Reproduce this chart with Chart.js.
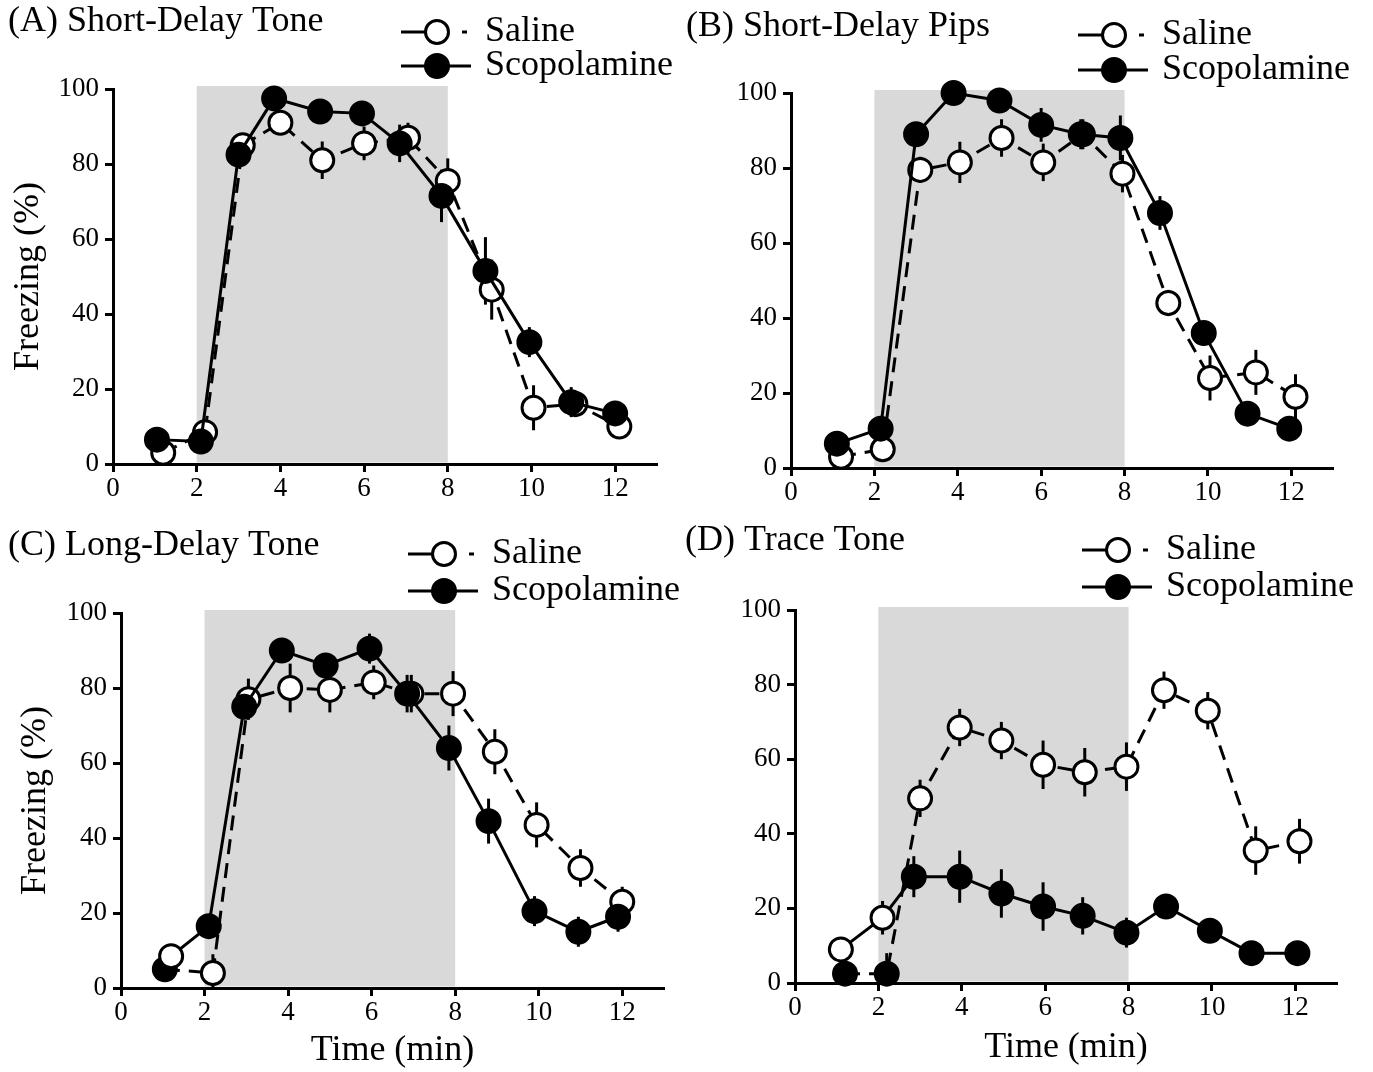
<!DOCTYPE html>
<html>
<head>
<meta charset="utf-8">
<script src="https://cdn.jsdelivr.net/npm/chart.js@4.4.1/dist/chart.umd.min.js"></script>
<style>
  html, body { margin: 0; padding: 0; background: #fff; }
  body { width: 1373px; height: 1072px; position: relative; overflow: hidden; }
  canvas { position: absolute; }
</style>
</head>
<body>
<canvas id="cA"></canvas>
<canvas id="cB"></canvas>
<canvas id="cC"></canvas>
<canvas id="cD"></canvas>
<script>
// Ejes y periodo del tono
const xTicks = [0, 2, 4, 6, 8, 10, 12];
const yTicks = [0, 20, 40, 60, 80, 100];
const toneWindow = [2, 8];

// (A) Short-Delay Tone
const aSalineTime = [1.2, 2.2, 3.1, 4.0, 5.0, 6.0, 7.05, 8.0, 9.05, 10.05, 11.05, 12.1];
const aSaline     = [3, 8.5, 85, 91, 81, 85.5, 87, 75.5, 46.5, 15, 16, 10];
const aSalineSem  = [1, 2, 3, 3, 5, 4.5, 4, 6, 8, 6, 3.5, 2];
const aScopTime   = [1.05, 2.1, 3.0, 3.85, 4.95, 5.95, 6.85, 7.85, 8.9, 9.95, 10.95, 12.0];
const aScop       = [6.5, 6, 82.5, 97.5, 94, 93.5, 85.5, 71.5, 51.5, 32.5, 16.5, 13.5];
const aScopSem    = [1, 1, 2, 1, 1, 2, 5, 7, 9, 4, 4, 3];

// (B) Short-Delay Pips
const bSalineTime = [1.2, 2.2, 3.1, 4.05, 5.05, 6.05, 7.0, 7.95, 9.05, 10.05, 11.15, 12.1];
const bSaline     = [3, 5, 79.5, 81.5, 88, 81.5, 89, 78.5, 44, 24, 25.5, 19];
const bSalineSem  = [1, 1, 3.5, 5.5, 5, 5, 4, 5, 3.5, 6, 6, 6];
const bScopTime   = [1.1, 2.15, 3.0, 3.9, 5.0, 6.0, 6.95, 7.9, 8.85, 9.9, 10.95, 11.95];
const bScop       = [6.5, 10.5, 89, 100, 98, 91.5, 89, 88, 68, 36, 14.5, 10.5];
const bScopSem    = [1, 1, 2, 1, 1, 4.5, 4, 6, 4.5, 3, 3, 1];

// (C) Long-Delay Tone
const cSalineTime = [1.05, 2.2, 3.05, 4.05, 5.0, 6.05, 6.95, 7.95, 8.95, 9.95, 11.0, 12.0];
const cSaline     = [5, 4, 77, 80, 79.5, 81.5, 78.5, 78.5, 63, 43.5, 32, 23];
const cSalineSem  = [1, 5, 5.5, 6.5, 6, 4.5, 5, 6, 6, 6, 5, 4];
const cScopTime   = [1.2, 2.1, 2.95, 3.85, 4.9, 5.95, 6.85, 7.85, 8.8, 9.9, 10.95, 11.9];
const cScop       = [8.5, 16.5, 75, 90, 86, 90.5, 78.5, 64, 44.5, 20.5, 15, 19];
const cScopSem    = [1, 2, 3, 2, 3, 4, 5, 6, 6, 4, 4, 4];
const cSwappedMarks = [0];

// (D) Trace Tone
const dSalineTime = [1.2, 2.2, 3.0, 3.95, 4.95, 5.95, 6.95, 7.95, 8.85, 9.9, 11.05, 12.1];
const dSaline     = [2.5, 2.5, 49.5, 68.5, 65, 58.5, 56.5, 58, 78.5, 73, 35.5, 38];
const dSalineSem  = [1, 5.5, 5, 5, 5, 6.5, 6.5, 6.5, 5, 5, 6.5, 6];
const dScopTime   = [1.1, 2.1, 2.85, 3.95, 4.95, 5.95, 6.9, 7.95, 8.9, 9.95, 10.95, 12.05];
const dScop       = [9, 17.5, 28.5, 28.5, 24, 20.5, 18, 13.5, 20.5, 14, 8, 8];
const dScopSem    = [1, 4.5, 5.5, 7, 6.5, 6.5, 5, 4, 3, 2, 1, 1];
const dSwappedMarks = [0, 1];

const FAMILY = "'Liberation Serif', 'Times New Roman', serif";
const BIG = 36;
const TICK = 27;
const MARK_R = 11.5;

// Posición de cada panel en la página (px)
const PANELS = [
  { id: "cA", left: 0, top: 0, w: 686, h: 520, area: { l: 113, r: 657, t: 89, b: 464 },
    title: "(A) Short-Delay Tone", titleAt: [8, 22], legendAt: [401, 32, 66],
    yTitlePad: 7, xTitlePad: null,
    saline: [aSalineTime, aSaline, aSalineSem], scop: [aScopTime, aScop, aScopSem], swapped: [] },
  { id: "cB", left: 686, top: 0, w: 687, h: 520, area: { l: 791, r: 1333, t: 93, b: 468 },
    title: "(B) Short-Delay Pips", titleAt: [686, 27], legendAt: [1078, 35, 70],
    yTitlePad: null, xTitlePad: null,
    saline: [bSalineTime, bSaline, bSalineSem], scop: [bScopTime, bScop, bScopSem], swapped: [] },
  { id: "cC", left: 0, top: 520, w: 686, h: 552, area: { l: 121, r: 664, t: 613, b: 988 },
    title: "(C) Long-Delay Tone", titleAt: [8, 546], legendAt: [408, 554, 591],
    yTitlePad: 14, xTitlePad: 0,
    saline: [cSalineTime, cSaline, cSalineSem], scop: [cScopTime, cScop, cScopSem], swapped: cSwappedMarks },
  { id: "cD", left: 686, top: 520, w: 687, h: 552, area: { l: 795, r: 1337, t: 610, b: 983 },
    title: "(D) Trace Tone", titleAt: [685, 541], legendAt: [1082, 550, 587],
    yTitlePad: null, xTitlePad: 3,
    saline: [dSalineTime, dSaline, dSalineSem], scop: [dScopTime, dScop, dScopSem], swapped: dSwappedMarks },
];

function drawMarker(ctx, x, y, filled) {
  ctx.beginPath();
  ctx.arc(x, y, MARK_R, 0, Math.PI * 2);
  ctx.fillStyle = filled ? "#000" : "#fff";
  ctx.fill();
  ctx.lineWidth = 3;
  ctx.strokeStyle = "#000";
  ctx.stroke();
}

const decor = {
  id: "decor",
  beforeDatasetsDraw(chart, args, opts) {
    const { ctx, scales: { x, y } } = chart;
    ctx.save();
    // zona sombreada del tono
    const x0 = x.getPixelForValue(toneWindow[0]);
    const x1 = x.getPixelForValue(toneWindow[1]);
    const yt = y.getPixelForValue(100) - 3;
    const yb = y.getPixelForValue(0) - 1.5;
    ctx.fillStyle = "#d9d9d9";
    ctx.fillRect(x0, yt, x1 - x0, yb - yt);
    // barras de error (SEM)
    ctx.strokeStyle = "#000";
    ctx.lineWidth = 3;
    opts.sems.forEach((sem, di) => {
      const ds = chart.data.datasets[di];
      const meta = chart.getDatasetMeta(di);
      sem.forEach((e, i) => {
        const v = ds.data[i].y;
        const px = meta.data[i].x;
        ctx.beginPath();
        ctx.moveTo(px, y.getPixelForValue(v + e));
        ctx.lineTo(px, y.getPixelForValue(Math.max(0, v - e)));
        ctx.stroke();
      });
    });
    ctx.restore();
  },
  afterDraw(chart, args, opts) {
    const ctx = chart.ctx;
    const p = opts.panel;
    ctx.save();
    ctx.fillStyle = "#000";
    ctx.font = `${BIG}px ${FAMILY}`;
    ctx.textBaseline = "middle";
    ctx.textAlign = "left";
    ctx.fillText(p.title, p.titleAt[0] - p.left, p.titleAt[1] - p.top);

    const lx = p.legendAt[0] - p.left;
    const y1 = p.legendAt[1] - p.top;
    const y2 = p.legendAt[2] - p.top;
    ctx.strokeStyle = "#000";
    ctx.lineWidth = 3;
    // Saline: línea discontinua + círculo abierto
    ctx.beginPath();
    ctx.moveTo(lx, y1); ctx.lineTo(lx + 24, y1);
    ctx.moveTo(lx + 61, y1); ctx.lineTo(lx + 66, y1);
    ctx.stroke();
    drawMarker(ctx, lx + 36, y1, false);
    // Scopolamine: línea continua + círculo lleno
    ctx.beginPath();
    ctx.moveTo(lx, y2); ctx.lineTo(lx + 70, y2);
    ctx.stroke();
    drawMarker(ctx, lx + 36, y2, true);
    ctx.fillStyle = "#000";
    ctx.fillText("Saline", lx + 84, y1);
    ctx.fillText("Scopolamine", lx + 84, y2);
    ctx.restore();
  },
};

function points(xs, vs) {
  return xs.map((t, i) => ({ x: t, y: vs[i] }));
}

function markFill(n, swapped, filledByDefault) {
  return Array.from({ length: n }, (_, i) => (swapped.includes(i) ? !filledByDefault : filledByDefault) ? "#000" : "#fff");
}

function makeChart(p) {
  const canvas = document.getElementById(p.id);
  canvas.width = p.w;
  canvas.height = p.h;
  canvas.style.left = p.left + "px";
  canvas.style.top = p.top + "px";

  const yW = p.area.l - p.left;
  const xH = p.top + p.h - p.area.b;
  const [sx, sv, ss] = p.saline;
  const [cx, cv, cs] = p.scop;

  return new Chart(canvas, {
    type: "scatter",
    data: {
      datasets: [
        {
          label: "Scopolamine",
          data: points(cx, cv),
          showLine: true,
          borderColor: "#000",
          borderWidth: 3,
          pointRadius: MARK_R,
          pointHoverRadius: MARK_R,
          pointBorderWidth: 3,
          pointBorderColor: "#000",
          pointBackgroundColor: markFill(cv.length, p.swapped, true),
          clip: false,
        },
        {
          label: "Saline",
          data: points(sx, sv),
          showLine: true,
          borderColor: "#000",
          borderWidth: 3,
          borderDash: [15, 9],
          pointRadius: MARK_R,
          pointHoverRadius: MARK_R,
          pointBorderWidth: 3,
          pointBorderColor: "#000",
          pointBackgroundColor: markFill(sv.length, p.swapped, false),
          clip: false,
        },
      ],
    },
    options: {
      responsive: false,
      animation: false,
      devicePixelRatio: 1,
      events: [],
      layout: {
        padding: { top: p.area.t - p.top, right: p.left + p.w - p.area.r, left: 0, bottom: 0 },
      },
      plugins: {
        legend: { display: false },
        tooltip: { enabled: false },
        decor: { panel: p, sems: [cs, ss] },
      },
      scales: {
        x: {
          type: "linear",
          min: 0,
          max: 13,
          afterBuildTicks: (s) => { s.ticks = xTicks.map((v) => ({ value: v })); },
          afterFit: (s) => { s.height = xH; },
          grid: { drawOnChartArea: false, drawTicks: true, tickLength: 8, tickWidth: 3, tickColor: "#000" },
          border: { display: true, color: "#000", width: 3 },
          ticks: { color: "#000", font: { family: FAMILY, size: TICK }, padding: 1, maxRotation: 0, autoSkip: false },
          title: p.xTitlePad === null ? { display: false } : {
            display: true, text: "Time (min)", color: "#000",
            font: { family: FAMILY, size: BIG }, padding: { top: 0, bottom: p.xTitlePad },
          },
        },
        y: {
          type: "linear",
          min: 0,
          max: 100,
          afterBuildTicks: (s) => { s.ticks = yTicks.map((v) => ({ value: v })); },
          afterFit: (s) => { s.width = yW; },
          grid: { drawOnChartArea: false, drawTicks: true, tickLength: 8, tickWidth: 3, tickColor: "#000" },
          border: { display: true, color: "#000", width: 3 },
          ticks: { color: "#000", font: { family: FAMILY, size: TICK }, padding: 6 },
          title: p.yTitlePad === null ? { display: false } : {
            display: true, text: "Freezing (%)", color: "#000",
            font: { family: FAMILY, size: BIG }, padding: { top: p.yTitlePad, bottom: 0 },
          },
        },
      },
    },
    plugins: [decor],
  });
}

PANELS.forEach(makeChart);
</script>
</body>
</html>
